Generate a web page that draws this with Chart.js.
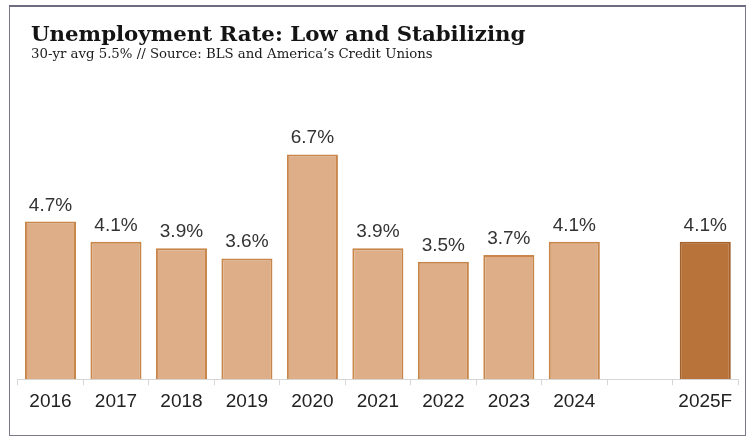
<!DOCTYPE html>
<html>
<head>
<meta charset="utf-8">
<script src="https://cdn.jsdelivr.net/npm/chart.js@4/dist/chart.umd.min.js"></script>
<style>
    html, body {
        margin: 0;
        padding: 0;
        background: #ffffff;
    }
    .frame {
        position: absolute;
        left: 9px;
        top: 5px;
        width: 737px;
        height: 431px;
        box-sizing: border-box;
        border: 1px solid #7a7a8c;
        border-top: 2px solid #6c6c7e;
        background: #ffffff;
    }
    .chart-title {
        position: absolute;
        left: 21px;
        top: 15px;
        font-family: 'DejaVu Serif', Georgia, serif;
        font-weight: bold;
        font-size: 21.3px;
        line-height: 24px;
        color: #141414;
        white-space: nowrap;
    }
    .chart-subtitle {
        position: absolute;
        left: 21px;
        top: 39px;
        font-family: 'DejaVu Serif', Georgia, serif;
        font-size: 13.3px;
        line-height: 16px;
        color: #1a1a1a;
        white-space: nowrap;
    }
    .chart-box {
        position: absolute;
        left: 0;
        top: 0;
        width: 735px;
        height: 428px;
    }
</style>
</head>
<body>
<div class="frame">
    <div class="chart-box"><canvas id="unemploymentChart"></canvas></div>
    <div class="chart-title">Unemployment Rate: Low and Stabilizing</div>
    <div class="chart-subtitle">30-yr avg 5.5% // Source: BLS and America’s Credit Unions</div>
</div>

<script>
// Годы и уровень безработицы, пустая позиция отделяет прогноз
const YEARS = ['2016', '2017', '2018', '2019', '2020', '2021', '2022', '2023', '2024', '', '2025F'];
const RATES = [4.7, 4.1, 3.9, 3.6, 6.7, 3.9, 3.5, 3.7, 4.1, null, 4.1];

const Y_MIN = 0;
const Y_MAX = 7.5;

const COLORS = Object.freeze({
    actualFill: '#ddae87',
    actualBorder: '#c8864a',
    forecastFill: '#b8733a',
    forecastBorder: '#a3612b',
    label: '#333333',
    axis: '#d6d6d6',
});

function isForecast(label) {
    return label.endsWith('F');
}

// Подписи значений над столбцами
const valueLabels = {
    id: 'valueLabels',
    afterDatasetsDraw(chart) {
        const ctx = chart.ctx;
        const meta = chart.getDatasetMeta(0);
        ctx.save();
        ctx.font = '19px "Liberation Sans", Arial, sans-serif';
        ctx.fillStyle = COLORS.label;
        ctx.textAlign = 'center';
        ctx.textBaseline = 'alphabetic';
        meta.data.forEach((bar, i) => {
            const value = RATES[i];
            if (value === null) {
                return;
            }
            ctx.fillText(`${value.toFixed(1)}%`, bar.x, bar.y - 11);
        });
        ctx.restore();
    },
};

const canvas = document.getElementById('unemploymentChart');

new Chart(canvas.getContext('2d'), {
    type: 'bar',
    data: {
        labels: YEARS,
        datasets: [
            {
                label: 'Unemployment rate',
                data: RATES,
                backgroundColor: YEARS.map((y) => (isForecast(y) ? COLORS.forecastFill : COLORS.actualFill)),
                borderColor: YEARS.map((y) => (isForecast(y) ? COLORS.forecastBorder : COLORS.actualBorder)),
                borderWidth: 2,
                borderSkipped: 'bottom',
                barPercentage: 0.78,
                categoryPercentage: 1,
            },
        ],
    },
    options: {
        responsive: true,
        maintainAspectRatio: false,
        animation: false,
        layout: {
            padding: {top: 120.6, left: 7.75, right: 7, bottom: 17},
        },
        plugins: {
            legend: {display: false},
            tooltip: {enabled: false},
        },
        scales: {
            x: {
                offset: true,
                grid: {
                    offset: true,
                    drawOnChartArea: false,
                    drawTicks: true,
                    tickLength: 6,
                    color: COLORS.axis,
                },
                border: {
                    display: true,
                    color: COLORS.axis,
                    width: 1,
                },
                ticks: {
                    padding: 5,
                    color: '#222222',
                    font: {family: '"Liberation Sans", Arial, sans-serif', size: 19},
                    maxRotation: 0,
                    autoSkip: false,
                },
            },
            y: {
                display: false,
                min: Y_MIN,
                max: Y_MAX,
            },
        },
    },
    plugins: [valueLabels],
});
</script>
</body>
</html>
